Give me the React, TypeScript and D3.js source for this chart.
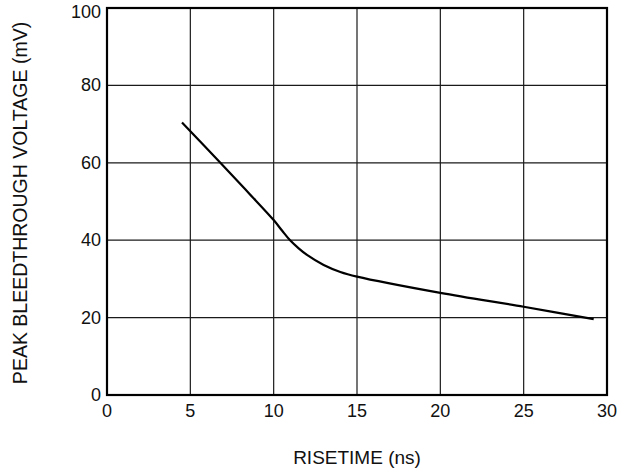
import React, { useEffect, useRef } from "react";
import * as d3 from "d3";

// risetime (ns) vs peak bleedthrough voltage (mV)
const riseTime = [4.5, 6.8, 8.5, 10, 10.5, 11, 11.5, 12, 13, 14, 15, 20, 25, 29.2];
const bleedVoltage = [70.4, 60, 52.2, 45.2, 42.5, 39.9, 37.9, 36.2, 33.6, 31.8, 30.6, 26.4, 22.8, 19.6];

const xTicks = [0, 5, 10, 15, 20, 25, 30];
const yTicks = [0, 20, 40, 60, 80, 100];

const width = 626;
const height = 474;

const App = () => {
  const ref = useRef<SVGSVGElement>(null);

  useEffect(() => {
    const svg = d3.select(ref.current);
    svg.selectAll("*").remove();

    const margin = { top: 8, right: 19, bottom: 79, left: 107 };
    const innerWidth = width - margin.left - margin.right;
    const innerHeight = height - margin.top - margin.bottom;
    const font = "'Liberation Sans', Arial, sans-serif";

    const xScale = d3.scaleLinear().domain([0, 30]).range([0, innerWidth]);
    const yScale = d3.scaleLinear().domain([0, 100]).range([innerHeight, 0]);

    const g = svg
      .append("g")
      .attr("transform", `translate(${margin.left},${margin.top})`);

    // grid
    g.selectAll(".vgrid")
      .data(xTicks.slice(1, -1))
      .enter()
      .append("line")
      .attr("x1", (d) => xScale(d))
      .attr("x2", (d) => xScale(d))
      .attr("y1", 0)
      .attr("y2", innerHeight)
      .attr("stroke", "#1a1a1a")
      .attr("stroke-width", 1.2);

    g.selectAll(".hgrid")
      .data(yTicks.slice(1, -1))
      .enter()
      .append("line")
      .attr("x1", 0)
      .attr("x2", innerWidth)
      .attr("y1", (d) => yScale(d))
      .attr("y2", (d) => yScale(d))
      .attr("stroke", "#1a1a1a")
      .attr("stroke-width", 1.2);

    // frame
    g.append("rect")
      .attr("width", innerWidth)
      .attr("height", innerHeight)
      .attr("fill", "none")
      .attr("stroke", "#000")
      .attr("stroke-width", 2.2);

    // curve
    const line = d3
      .line<number>()
      .x((d) => xScale(d))
      .y((_, i) => yScale(bleedVoltage[i]))
      .curve(d3.curveCatmullRom.alpha(0.5));

    g.append("path")
      .datum(riseTime)
      .attr("d", line)
      .attr("fill", "none")
      .attr("stroke", "#000")
      .attr("stroke-width", 2.2);

    // tick labels
    g.selectAll(".xlab")
      .data(xTicks)
      .enter()
      .append("text")
      .attr("x", (d) => xScale(d))
      .attr("y", innerHeight + 22)
      .attr("text-anchor", "middle")
      .attr("font-family", font)
      .attr("font-size", 18)
      .attr("fill", "#111")
      .text((d) => d);

    g.selectAll(".ylab")
      .data(yTicks)
      .enter()
      .append("text")
      .attr("x", -6)
      .attr("y", (d) => Math.max(yScale(d) + 6, 10))
      .attr("text-anchor", "end")
      .attr("font-family", font)
      .attr("font-size", 18)
      .attr("fill", "#111")
      .text((d) => d);

    // axis titles
    svg
      .append("text")
      .attr("x", margin.left + innerWidth / 2)
      .attr("y", 464)
      .attr("text-anchor", "middle")
      .attr("font-family", font)
      .attr("font-size", 19)
      .attr("fill", "#111")
      .text("RISETIME (ns)");

    svg
      .append("text")
      .attr("transform", `translate(27,203) rotate(-90)`)
      .attr("text-anchor", "middle")
      .attr("font-family", font)
      .attr("font-size", 19.5)
      .attr("fill", "#111")
      .text("PEAK BLEEDTHROUGH VOLTAGE (mV)");
  }, []);

  return (
    <svg
      ref={ref}
      width={width}
      height={height}
      style={{ position: "absolute", left: 0, top: 0, background: "#fff" }}
    />
  );
};

export default App;
